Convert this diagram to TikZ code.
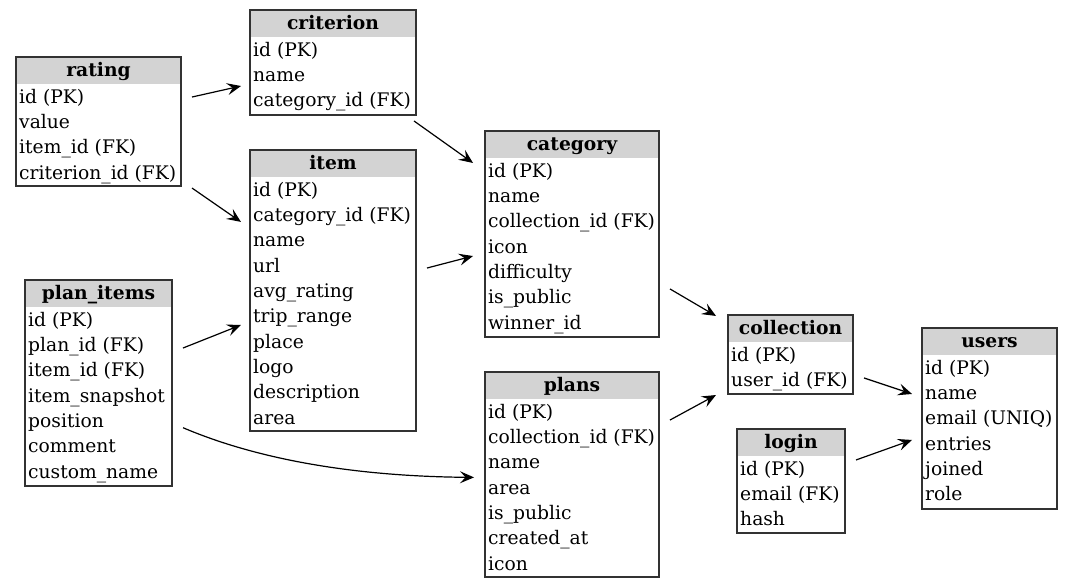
\documentclass[tikz,border=0pt]{standalone}
\usepackage{fontspec}
\setmainfont{DejaVu Serif}
\usetikzlibrary{arrows.meta}
\definecolor{hdrgray}{RGB}{211,211,211}
\definecolor{boxline}{RGB}{50,50,50}
\tikzset{
  tblbox/.style={draw=boxline, line width=1.3pt, inner sep=0pt, outer sep=0pt, rectangle},
  ttl/.style={font=\fontsize{18.7}{22}\selectfont\bfseries, inner sep=0pt, anchor=base},
  fld/.style={font=\fontsize{18.7}{22}\selectfont, inner sep=0pt, anchor=base west},
  fk/.style={line width=1.2pt, -{Stealth[length=14pt,width=12pt,inset=5.5pt]}},
}
\newcommand{\erbox}[7]{%
  \fill[hdrgray] ({#2+1},{#3+1}) rectangle ({#4-1},{#3+27});
  \node[tblbox, minimum width={#4-#2}, minimum height={#5-#3}] (#1) at ({(#2+#4)/2},{(#3+#5)/2}) {};
  \node[ttl] (#1-title) at ({(#2+#4)/2},{#3+19.5}) {#6};
  \foreach \r [count=\i] in {#7} \node[fld] (#1-f\i) at ({#2+3},{#3+46.3+(\i-1)*25.33}) {\r};
}
\begin{document}
\begin{tikzpicture}[x=1pt,y=-1pt]
\useasboundingbox[fill=white] (0,0) rectangle (1073,588);
\erbox{rating}{16}{57}{181}{186}{rating}{id (PK),value,item\_id (FK),criterion\_id (FK)}
\erbox{criterion}{250}{10}{416}{115}{criterion}{id (PK),name,category\_id (FK)}
\erbox{item}{250}{150}{416}{431}{item}{id (PK),category\_id (FK),name,url,avg\_rating,trip\_range,place,logo,description,area}
\erbox{planitems}{25}{280}{172}{486}{plan\_items}{id (PK),plan\_id (FK),item\_id (FK),item\_snapshot,position,comment,custom\_name}
\erbox{category}{485}{131}{659}{337}{category}{id (PK),name,collection\_id (FK),icon,difficulty,is\_public,winner\_id}
\erbox{plans}{485}{372}{659}{577}{plans}{id (PK),collection\_id (FK),name,area,is\_public,created\_at,icon}
\erbox{collection}{728}{315}{853}{394}{collection}{id (PK),user\_id (FK)}
\erbox{login}{737}{429}{845}{533}{login}{id (PK),email (FK),hash}
\erbox{users}{922}{328}{1057}{509}{users}{id (PK),name,email (UNIQ),entries,joined,role}

\draw[fk, shorten <=11.3pt, shorten >=9.2pt] (rating.east |- 0,99.5) -- (criterion.west |- 0,84);
\draw[fk, shorten <=13.4pt, shorten >=11pt] (rating.east |- 0,180.4) -- (item.west |- 0,228.2);
\draw[fk, shorten <=10.3pt, shorten >=14.7pt] (405.6,0 |- criterion.south) -- (category.west |- 0,171.5);
\draw[fk, shorten <=11.4pt, shorten >=12.4pt] (item.east |- 0,270.9) -- (category.west |- 0,252.9);
\draw[fk, shorten <=11.8pt, shorten >=9.7pt] (planitems.east |- 0,352.4) -- (item.west |- 0,321.4);
\draw[fk, shorten <=12pt, shorten >=11pt] (planitems.east |- 0,423) .. controls (240,452) and (330,476) .. (plans.west |- 0,477.5);
\draw[fk, shorten <=12.8pt, shorten >=13.9pt] (category.east |- 0,282.5) -- (collection.west |- 0,323);
\draw[fk, shorten <=12.5pt, shorten >=13.7pt] (plans.east |- 0,426) -- (collection.west |- 0,388.5);
\draw[fk, shorten <=11.6pt, shorten >=10.5pt] (collection.east |- 0,374.3) -- (users.west |- 0,397.3);
\draw[fk, shorten <=11.7pt, shorten >=10.6pt] (login.east |- 0,463.9) -- (users.west |- 0,436.4);
\end{tikzpicture}
\end{document}
